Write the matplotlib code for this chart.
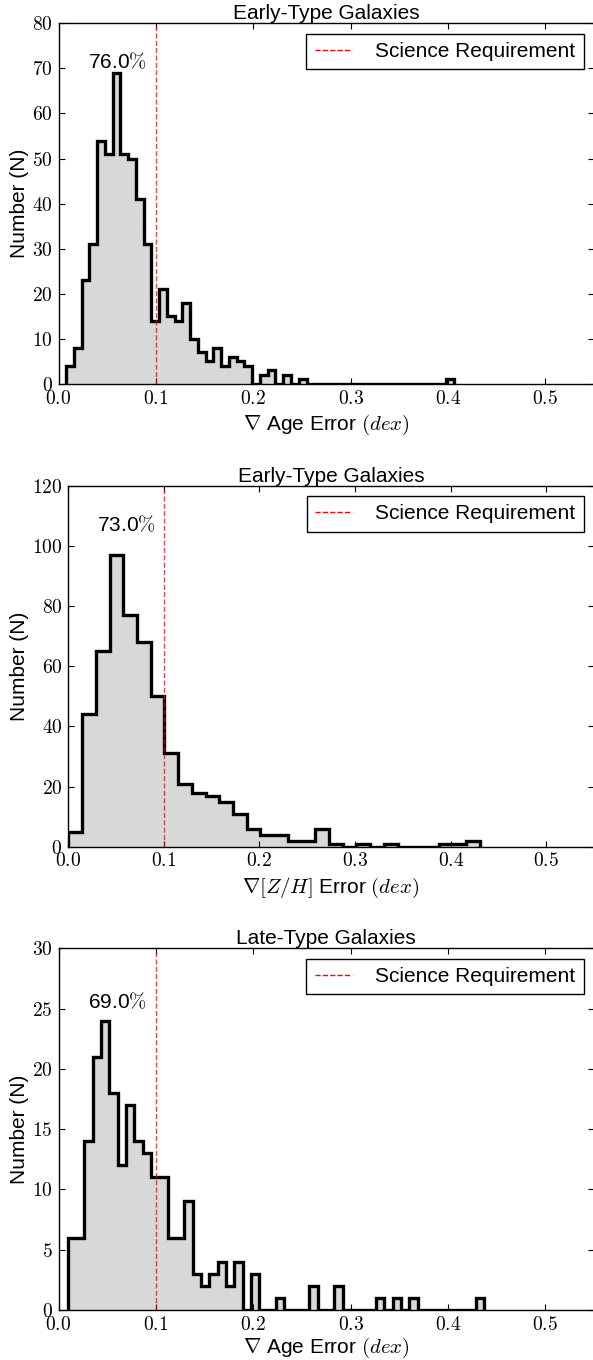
import numpy as np
import matplotlib
matplotlib.use('Agg')
import matplotlib.pyplot as plt
from matplotlib.ticker import FuncFormatter

plt.rcParams['mathtext.fontset'] = 'cm'
plt.rcParams['font.family'] = ['Liberation Sans', 'DejaVu Sans']

# bin counts
age_early_counts = [4, 8, 23, 31, 54, 51, 69, 51, 50, 41,
                    31, 14, 21, 15, 14, 18, 10, 7, 5, 8,
                    4, 6, 5, 4, 0, 2, 3, 0, 2, 0,
                    1, 0, 0, 0, 0, 0, 0, 0, 0, 0,
                    0, 0, 0, 0, 0, 0, 0, 0, 0, 1]
age_early_range = (0.0079, 0.406)

zh_early_counts = [5, 44, 65, 97, 77, 68, 50, 31, 21, 18,
                   17, 15, 11, 6, 4, 4, 2, 2, 6, 1,
                   0, 1, 0, 1, 0, 0, 0, 1, 1, 2]
zh_early_range = (0.0005, 0.4305)

age_late_counts = [6, 6, 14, 21, 24, 18, 12, 17, 14, 13,
                   11, 11, 6, 6, 9, 3, 2, 3, 4, 2,
                   4, 0, 3, 0, 0, 1, 0, 0, 0, 2,
                   0, 0, 2, 0, 0, 0, 0, 1, 0, 1,
                   0, 1, 0, 0, 0, 0, 0, 0, 0, 1]
age_late_range = (0.0095, 0.4375)

titles = ['Early-Type Galaxies', 'Early-Type Galaxies', 'Late-Type Galaxies']
xlabels = [r'$\nabla$ Age Error $(dex)$', r'$\nabla[Z/H]$ Error $(dex)$',
           r'$\nabla$ Age Error $(dex)$']
percents = ['76.0', '73.0', '69.0']
label_pos = [(0.060, 70), (0.061, 105), (0.060, 25)]
ymax = [80, 120, 30]
ystep = [10, 20, 5]
requirement = 0.1

W, H = 593.0, 1360.0
boxes = [(58.5, 23.3, 594.0, 384.0),
         (68.0, 485.7, 594.2, 846.7),
         (58.5, 948.3, 594.0, 1310.0)]
xlabel_pads = [4, 4, 2]

fig = plt.figure(figsize=(W / 100, H / 100), dpi=100)

data = [(age_early_counts, age_early_range),
        (zh_early_counts, zh_early_range),
        (age_late_counts, age_late_range)]

for i, (counts, rng) in enumerate(data):
    x0, y0, x1, y1 = boxes[i]
    ax = fig.add_axes([x0 / W, 1 - y1 / H, (x1 - x0) / W, (y1 - y0) / H])
    edges = np.linspace(rng[0], rng[1], len(counts) + 1)
    ax.stairs(counts, edges, fill=True, color='#d8d8d8', lw=0)
    ax.stairs(counts, edges, color='k', lw=2.4, baseline=0)
    ax.axvline(requirement, color='red', ls='--', lw=1.0, alpha=0.75,
               label='Science Requirement')
    ax.text(label_pos[i][0], label_pos[i][1], percents[i] + r'$\%$',
            ha='center', va='baseline', fontsize=15)

    ax.set_xlim(0, 0.55)
    ax.set_ylim(0, ymax[i])
    ax.set_xticks(np.arange(0, 0.51, 0.1))
    ax.set_yticks(np.arange(0, ymax[i] + 1, ystep[i]))
    ax.xaxis.set_major_formatter(FuncFormatter(lambda v, p: r'$%.1f$' % v))
    ax.yaxis.set_major_formatter(FuncFormatter(lambda v, p: r'$%d$' % v))
    ax.tick_params(direction='in', top=True, right=True, length=4,
                   width=0.8, labelsize=14, pad=4)
    for s in ax.spines.values():
        s.set_linewidth(1.0)

    ax.set_title(titles[i], fontsize=15, pad=3)
    ax.set_xlabel(xlabels[i], fontsize=15, labelpad=xlabel_pads[i])
    ax.set_ylabel('Number (N)', fontsize=15, labelpad=2)
    leg = ax.legend(loc='upper right', fontsize=15, handlelength=1.8,
                    handletextpad=1.1, fancybox=False, framealpha=1,
                    borderpad=0.4, borderaxespad=0.5)
    leg.get_frame().set_edgecolor('k')
    leg.get_frame().set_linewidth(1.0)
    leg.get_lines()[0].set_alpha(1.0)

plt.savefig('out.png', dpi=100)
